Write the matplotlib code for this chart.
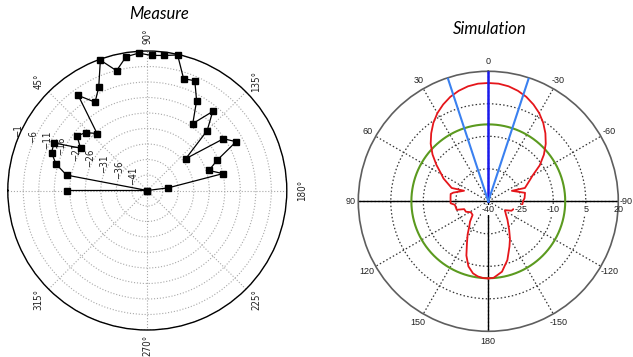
import numpy as np
import matplotlib
matplotlib.use("Agg")
import matplotlib.pyplot as plt
from matplotlib.transforms import offset_copy

# ---- measured pattern (degrees, dB) ----
meas_angle_deg = [0.0, 5.4, 10.8, 16.2, 21.6, 27.0, 32.4, 37.8, 43.2, 48.6,
                  54.0, 59.4, 64.8, 70.2, 75.6, 81.0, 86.4, 91.8, 97.2, 102.6,
                  108.0, 113.4, 118.8, 124.2, 129.6, 135.0, 140.4, 145.8, 151.2,
                  156.6, 162.0, 167.4, 172.8, 178.2]
meas_level_db = [-20.2, -46.0, -19.5, -15.3, -12.8, -12.2, -20.5, -17.3, -18.7,
                 -21.5, -8.1, -12.9, -9.2, -1.3, -6.1, -2.3, -1.6, -2.4, -2.1,
                 -1.2, -8.1, -7.4, -13.0, -19.9, -12.9, -18.7, -29.9, -16.3,
                 -13.3, -21.5, -25.1, -21.0, -39.2, -46.0]
meas_rticks = [-41, -36, -31, -26, -21, -16, -11, -6, -1]
meas_tticks = [45, 90, 135, 180, 225, 270, 315]
meas_tlabels = ["45°", "90°", "135°", "180°", "225°", "270°", "315°"]

# ---- simulated pattern (degrees, dB) ----
sim_angle_deg = [-180, -176, -169, -162, -155, -150, -144, -134, -126, -118,
                 -112, -108, -104, -100, -95, -90, -85, -77, -66, -70, -63,
                 -60, -55, -50, -45, -40, -35, -30, -25, -20, -15, -10, -5, 0,
                 5, 10, 15, 20, 25, 30, 35, 40, 45, 50, 55, 60, 63, 70, 66.5,
                 76, 79, 85, 93, 96, 105, 108, 115, 122, 131, 138, 143, 148,
                 153, 158, 163, 168, 172, 176, 180]
sim_gain_db = [-4.4, -4.6, -6.9, -11.5, -16.9, -20.0, -23.6, -27.7, -30.0, -31.3,
               -28.4, -28.0, -25.5, -25.5, -24.2, -24.0, -23.2, -22.6, -28.1,
               -22.0, -18.5, -16.5, -11.0, -6.5, -2.5, 1.0, 4.2, 7.0, 9.3, 11.3,
               12.8, 13.9, 14.5, 14.6,
               14.5, 13.9, 12.8, 11.3, 9.3, 7.0, 4.2, 1.0, -2.4, -6.4, -10.8,
               -15.0, -16.8, -22.0, -27.8, -23.4, -22.3, -22.5, -22.6, -24.5,
               -24.9, -28.3, -28.6, -30.5, -30.4, -27.4, -25.4, -22.0, -18.3,
               -13.0, -8.6, -6.0, -5.0, -4.5, -4.4]
sim_ref_level_db = -4.5
sim_beam_deg = [-18.2, 18.2]
sim_rticks = [-40, -25, -10, 5, 20]
sim_tticks = [0, 30, 60, 90, 120, 150, 180, -150, -120, -90, -60, -30]

fig = plt.figure(figsize=(6.33, 3.57), dpi=100)

# ================= left: measurement =================
ax1 = fig.add_axes([0.01232, 0.07563, 0.44076, 0.78151], projection="polar")
ax1.set_theta_zero_location("W")
ax1.set_theta_direction(-1)
ax1.set_rlim(-46, -1)
ax1.set_rgrids(meas_rticks, labels=[""] * len(meas_rticks))
ax1.set_thetagrids(np.arange(0, 360, 45), labels=[""] * 8)
ax1.grid(True, color="#a8a8a8", linestyle=":", linewidth=0.8)
ax1.spines["polar"].set_color("black")
ax1.spines["polar"].set_linewidth(1.0)
ax1.plot(np.deg2rad(meas_angle_deg), meas_level_db, color="black", lw=0.9,
         marker="s", ms=4, mfc="black", mec="black", clip_on=False, zorder=5)

lab_font = dict(family="DejaVu Sans", stretch="condensed", fontsize=7,
                color="#222222")
for ang, lab in zip(meas_tticks, meas_tlabels):
    ax1.text(np.deg2rad(ang), 3.8, lab, rotation=90, ha="center",
             va="center", clip_on=False, **lab_font)
for v in meas_rticks:
    ax1.text(np.deg2rad(22.5), v, "\u2212%d" % abs(v), rotation=90,
             ha="center", va="bottom", clip_on=False, **lab_font)

# ================= right: simulation =================
ax2 = fig.add_axes([0.56603, 0.07199, 0.41074, 0.72829], projection="polar")
ax2.set_theta_zero_location("N")
ax2.set_theta_direction(1)
ax2.set_rlim(-40, 20)
ax2.set_rgrids([-25, -10, 5], labels=[""] * 3)
ax2.set_thetagrids(np.arange(0, 360, 30), labels=[""] * 12)
ax2.grid(True, color="#333333", linestyle=(0, (1.2, 1.8)), linewidth=0.9)
ax2.spines["polar"].set_color("#5e5e5e")
ax2.spines["polar"].set_linewidth(1.2)

# solid principal axes
ax2.plot(np.deg2rad([90, 90, -90]), [20, -40, 20], color="black", lw=1.0,
         zorder=2)
ax2.plot(np.deg2rad([180, 180]), [-40, 20], color="black", lw=1.0, zorder=2)

# reference level circle
circ = np.linspace(0, 2 * np.pi, 361)
ax2.plot(circ, np.full_like(circ, sim_ref_level_db), color="#5b9a1f", lw=1.5,
         zorder=3)

# pattern
ax2.plot(np.deg2rad(sim_angle_deg), sim_gain_db, color="#e5161b", lw=1.3,
         zorder=4)

# boresight and beam edges
ax2.plot([0, 0], [-40, 20], color="#1a1aee", lw=1.8, zorder=5)
for b in sim_beam_deg:
    ax2.plot([np.deg2rad(b)] * 2, [-40, 20], color="#3a80f0", lw=1.5,
             zorder=5)

sim_font = dict(family="Liberation Sans", fontsize=6.5, color="#222222")
for a in sim_tticks:
    r_lab = 23.5 if abs(a) == 90 else 24.6
    ax2.text(np.deg2rad(a), r_lab, str(a), ha="center", va="center",
             clip_on=False, **sim_font)
rlab_tr = offset_copy(ax2.transData, fig=fig, x=0, y=-8.7, units="dots")
for v in sim_rticks:
    kw = {}
    if v != 20:
        kw["bbox"] = dict(facecolor="white", edgecolor="none", pad=0.4)
    ax2.text(np.deg2rad(-90), v, str(v), ha="center", va="center",
             transform=rlab_tr, clip_on=False, zorder=6, **sim_font, **kw)

# titles
fig.text(158.8 / 633, 1 - 14 / 357, "Measure", ha="center", va="center",
         fontsize=12, style="italic", family="Lato")
fig.text(489.3 / 633, 1 - 29.5 / 357, "Simulation", ha="center", va="center",
         fontsize=12, style="italic", family="Lato")

fig.savefig("out.png", dpi=100)
